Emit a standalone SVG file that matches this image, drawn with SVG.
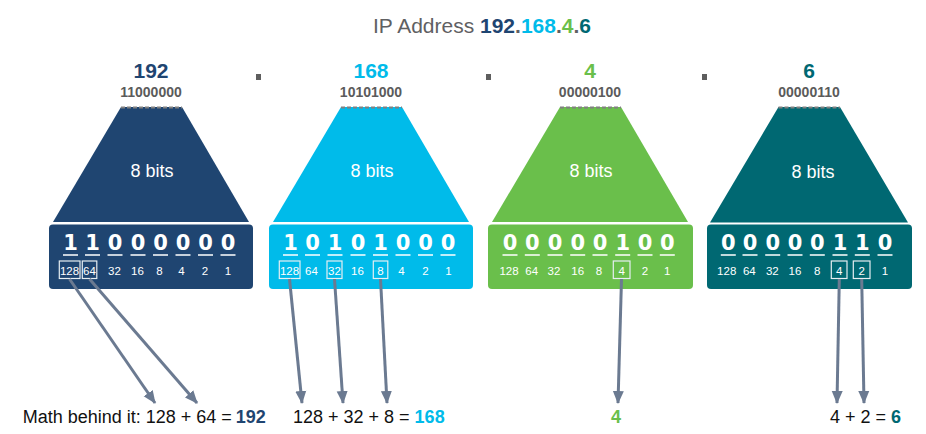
<svg xmlns="http://www.w3.org/2000/svg" width="926" height="434" viewBox="0 0 926 434">
<defs>
<style>
text{font-family:"Liberation Sans",Arial,sans-serif}
.num{font-size:21px;font-weight:bold;text-anchor:middle}
.bin{font-size:14px;font-weight:bold;fill:#5b5b5b;text-anchor:middle}
.bits{font-size:18px;fill:#fff;text-anchor:middle}
.dig{font-family:"DejaVu Sans","Liberation Sans",sans-serif;font-size:21px;font-weight:bold;fill:#fff;text-anchor:middle}
.w{font-size:11.5px;fill:#fff;text-anchor:middle}
.ul{stroke:#fff;stroke-width:1.5}
.wb{fill:none;stroke:#e6eef2;stroke-width:1.2}
.dash{stroke:#808080;stroke-width:2;stroke-dasharray:4 2}
.math{font-size:18px}
.arr{stroke:#6b7a91;stroke-width:3;fill:none;marker-end:url(#ah)}
.c1{fill:#1f4571}.c2{fill:#00bbea}.c3{fill:#6abf4b}.c4{fill:#006872}
</style>
<marker id="ah" markerUnits="userSpaceOnUse" markerWidth="14" markerHeight="14" viewBox="0 0 14 14" refX="12" refY="7" orient="auto">
<path d="M0,1.5 L13,7 L0,12.5 Z" fill="#6b7a91"/>
</marker>
</defs>
<rect width="926" height="434" fill="#fff"/>
<text x="373" y="33" font-size="21" fill="#5f6062">IP Address <tspan font-weight="bold" fill="#1f4571">192</tspan><tspan font-weight="bold">.</tspan><tspan font-weight="bold" fill="#00bbea">168</tspan><tspan font-weight="bold">.</tspan><tspan font-weight="bold" fill="#6abf4b">4</tspan><tspan font-weight="bold">.</tspan><tspan font-weight="bold" fill="#006872">6</tspan></text>
<rect x="256" y="74" width="5" height="6" fill="#5e5e5e"/>
<rect x="486" y="74" width="5" height="6" fill="#5e5e5e"/>
<rect x="702" y="74" width="5" height="6" fill="#5e5e5e"/>

<g id="octet1">
<text class="num" x="151" y="78" fill="#1f4571">192</text>
<text class="bin" x="151" y="97">11000000</text>
<path class="c1" d="M121,107 L182,107 L249,222 L53,222 Z"/>
<line class="dash" x1="121" y1="107.5" x2="182" y2="107.5"/>
<text class="bits" x="152" y="177">8 bits</text>
<rect class="c1" x="49" y="224.5" width="204" height="64.5" rx="4"/>
<text class="dig" x="70.5" y="250">1</text><text class="dig" x="92.5" y="250">1</text><text class="dig" x="115" y="250">0</text><text class="dig" x="138" y="250">0</text><text class="dig" x="160.5" y="250">0</text><text class="dig" x="183" y="250">0</text><text class="dig" x="205.5" y="250">0</text><text class="dig" x="228" y="250">0</text>
<path class="ul" d="M63,255h15M85,255h15M107.5,255h15M130.5,255h15M153,255h15M175.5,255h15M198,255h15M220.5,255h15"/>
<text class="w" x="69.5" y="275">128</text><text class="w" x="89.5" y="275">64</text><text class="w" x="114.5" y="275">32</text><text class="w" x="137.5" y="275">16</text><text class="w" x="159.5" y="275">8</text><text class="w" x="181.5" y="275">4</text><text class="w" x="205" y="275">2</text><text class="w" x="228" y="275">1</text>
<rect class="wb" x="59.3" y="261" width="20.7" height="17.5"/>
<rect class="wb" x="82.3" y="261" width="14.5" height="17.5"/>
</g>

<g id="octet2">
<text class="num" x="371" y="78" fill="#00bbea">168</text>
<text class="bin" x="371" y="97">10101000</text>
<path class="c2" d="M341,107 L402,107 L469,222 L273,222 Z"/>
<line class="dash" x1="341" y1="107.5" x2="402" y2="107.5"/>
<text class="bits" x="372" y="177">8 bits</text>
<rect class="c2" x="269" y="224.5" width="204" height="64.5" rx="4"/>
<text class="dig" x="290.5" y="250">1</text><text class="dig" x="312.5" y="250">0</text><text class="dig" x="335" y="250">1</text><text class="dig" x="358" y="250">0</text><text class="dig" x="380.5" y="250">1</text><text class="dig" x="403" y="250">0</text><text class="dig" x="425.5" y="250">0</text><text class="dig" x="448" y="250">0</text>
<path class="ul" d="M283,255h15M305,255h15M327.5,255h15M350.5,255h15M373,255h15M395.5,255h15M418,255h15M440.5,255h15"/>
<text class="w" x="289.5" y="275">128</text><text class="w" x="311.5" y="275">64</text><text class="w" x="334.5" y="275">32</text><text class="w" x="357.5" y="275">16</text><text class="w" x="380.5" y="275">8</text><text class="w" x="401.5" y="275">4</text><text class="w" x="425.5" y="275">2</text><text class="w" x="448.5" y="275">1</text>
<rect class="wb" x="279.3" y="261" width="20.7" height="17.5"/>
<rect class="wb" x="327" y="261" width="15" height="17.5"/>
<rect class="wb" x="373.3" y="261" width="14.5" height="17.5"/>
</g>

<g id="octet3">
<text class="num" x="590" y="78" fill="#6abf4b">4</text>
<text class="bin" x="590" y="97">00000100</text>
<path class="c3" d="M560,107 L621,107 L688,222 L492,222 Z"/>
<line class="dash" x1="560" y1="107.5" x2="621" y2="107.5"/>
<text class="bits" x="591" y="177">8 bits</text>
<rect class="c3" x="488" y="224.5" width="205" height="64.5" rx="4"/>
<text class="dig" x="510" y="250">0</text><text class="dig" x="532.3" y="250">0</text><text class="dig" x="555" y="250">0</text><text class="dig" x="577.7" y="250">0</text><text class="dig" x="600" y="250">0</text><text class="dig" x="622.7" y="250">1</text><text class="dig" x="645" y="250">0</text><text class="dig" x="667.3" y="250">0</text>
<path class="ul" d="M502.5,255h15M524.8,255h15M547.5,255h15M570.2,255h15M592.5,255h15M615.2,255h15M637.5,255h15M659.8,255h15"/>
<text class="w" x="509" y="275">128</text><text class="w" x="531.7" y="275">64</text><text class="w" x="554" y="275">32</text><text class="w" x="577.7" y="275">16</text><text class="w" x="599" y="275">8</text><text class="w" x="621.7" y="275">4</text><text class="w" x="645" y="275">2</text><text class="w" x="667.3" y="275">1</text>
<rect class="wb" x="613.3" y="261" width="16.7" height="17.5"/>
</g>

<g id="octet4">
<text class="num" x="809" y="78" fill="#006872">6</text>
<text class="bin" x="809" y="97">00000110</text>
<path class="c4" d="M778.5,107 L840,107 L908,222.5 L710,222.5 Z"/>
<line class="dash" x1="778.5" y1="107.5" x2="840" y2="107.5"/>
<text class="bits" x="813" y="177.5">8 bits</text>
<rect class="c4" x="707" y="224.5" width="205" height="64.5" rx="4"/>
<text class="dig" x="728.3" y="250">0</text><text class="dig" x="750" y="250">0</text><text class="dig" x="772.7" y="250">0</text><text class="dig" x="795" y="250">0</text><text class="dig" x="817.3" y="250">0</text><text class="dig" x="840" y="250">1</text><text class="dig" x="862.3" y="250">1</text><text class="dig" x="885" y="250">0</text>
<path class="ul" d="M720.8,255h15M742.5,255h15M765.2,255h15M787.5,255h15M809.8,255h15M832.5,255h15M854.8,255h15M877.5,255h15"/>
<text class="w" x="726.7" y="275">128</text><text class="w" x="749.3" y="275">64</text><text class="w" x="772.3" y="275">32</text><text class="w" x="795" y="275">16</text><text class="w" x="817.3" y="275">8</text><text class="w" x="839.3" y="275">4</text><text class="w" x="861.7" y="275">2</text><text class="w" x="885" y="275">1</text>
<rect class="wb" x="831.3" y="261" width="15.7" height="17.5"/>
<rect class="wb" x="853.3" y="261" width="16.7" height="17.5"/>
</g>

<g id="connectors">
<line class="arr" x1="69.5" y1="279" x2="155" y2="403"/>
<line class="arr" x1="89.5" y1="279" x2="197" y2="403"/>
<line class="arr" x1="289.5" y1="279" x2="302" y2="403"/>
<line class="arr" x1="334.5" y1="279" x2="343" y2="403"/>
<line class="arr" x1="380.5" y1="279" x2="387" y2="403"/>
<line class="arr" x1="621.5" y1="279" x2="618" y2="403"/>
<line class="arr" x1="839.3" y1="279" x2="837" y2="403"/>
<line class="arr" x1="861.7" y1="279" x2="864" y2="403"/>
</g>

<g id="math">
<text class="math" x="22.7" y="423" fill="#111">Math behind it: 128 + 64 =<tspan dx="4" font-weight="bold" fill="#1f4571">192</tspan></text>
<text class="math" x="293" y="423" fill="#111">128 + 32 + 8 = <tspan font-weight="bold" fill="#00bbea">168</tspan></text>
<text class="math" x="616" y="423" text-anchor="middle" font-weight="bold" fill="#6abf4b">4</text>
<text class="math" x="830" y="423" fill="#111">4 + 2 = <tspan font-weight="bold" fill="#006872">6</tspan></text>
</g>
</svg>
